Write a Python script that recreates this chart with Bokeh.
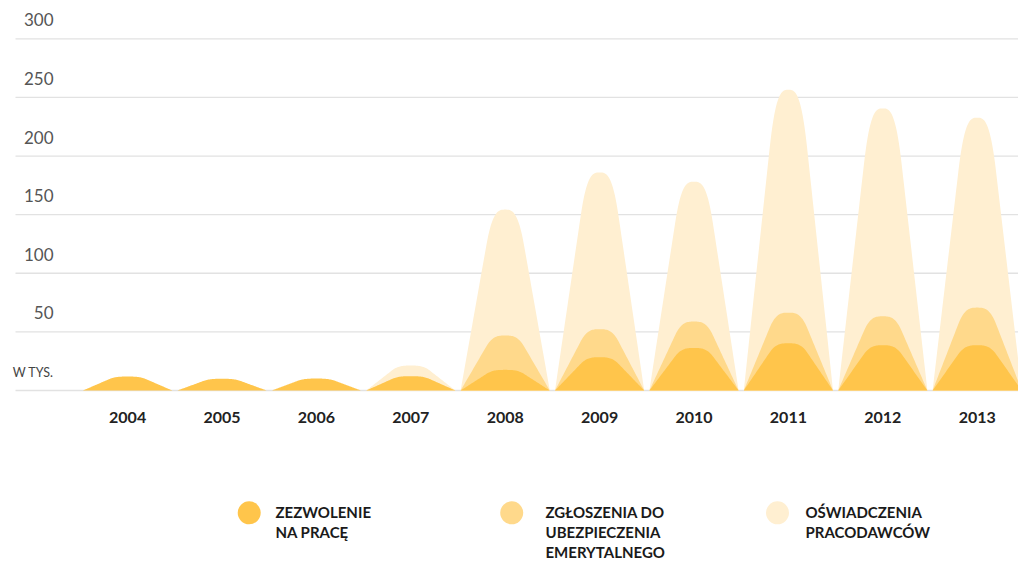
from bokeh.plotting import figure
from bokeh.models import Range1d
from bokeh.core.properties import value
from bokeh.embed import file_html
from bokeh.resources import INLINE

# ---------------- data (thousands) ----------------
years = ["2004", "2005", "2006", "2007", "2008", "2009", "2010", "2011", "2012", "2013"]
zezwolenie = [11.9, 10.0, 10.2, 12.2, 17.6, 28.4, 36.3, 40.3, 38.6, 38.6]
zgloszenia = [0, 0, 0, 0, 46.9, 52.3, 58.8, 66.4, 63.3, 70.7]
oswiadczenia = [0, 0, 0, 21.3, 154.3, 186.0, 178.1, 256.5, 240.6, 232.7]
y_ticks = [0, 50, 100, 150, 200, 250, 300]
y_tick_labels = ["W TYS.", "50", "100", "150", "200", "250", "300"]
series_labels = [["ZEZWOLENIE", "NA PRACĘ"],
                 ["ZGŁOSZENIA DO", "UBEZPIECZENIA", "EMERYTALNEGO"],
                 ["OŚWIADCZENIA", "PRACODAWCÓW"]]
colors = ["#FFC54B", "#FFD98B", "#FFEFD1"]

# ---------------- layout constants (screen px) ----------------
ORIG = 0                      # screen position of canvas origin
W, H = 1018, 564
C0, SP = 127.1, 94.4          # first band centre, band spacing (px)
Y0, PPU = 390.0, 351.7 / 300  # screen y of zero, px per unit
HALF = 44.6 / SP              # half width of a bump in band units
TSHIFT = 6.5                  # text baseline correction (px, upward)


def dx(sx):
    return (sx - C0) / SP


def dy(sy):
    return (Y0 - sy) / PPU


def ty(sy):
    return dy(sy - TSHIFT)


p = figure(width=W, height=H, output_backend="svg", toolbar_location=None,
           x_range=Range1d(dx(ORIG), dx(ORIG + W)), y_range=Range1d(dy(ORIG + H), dy(ORIG)),
           min_border=0, outline_line_color=None)
p.axis.visible = False
p.grid.visible = False
p.background_fill_color = "white"
p.border_fill_color = "white"

# gridlines
p.segment(x0=[dx(15)] * len(y_ticks), x1=[dx(1040)] * len(y_ticks), y0=y_ticks, y1=y_ticks,
          line_color="#e2e2e2", line_width=1.3)

# bump shape: straight flanks with a rounded cap
M = 1.39
PW = 3.0
U0 = (M - 1) / (M * (1 - 1 / PW))
K = M / (PW * U0 ** (PW - 1))


def g(u):
    u = abs(u)
    if u <= U0:
        return 1 - K * u ** PW
    return max(0.0, M * (1 - u))


N = 100
us = [-1 + 2 * j / N for j in range(N + 1)]


def bumps(vals):
    xs, ys = [], []
    for i, v in enumerate(vals):
        if v <= 0:
            continue
        xs.append([i + u * HALF for u in us])
        ys.append([v * g(u) for u in us])
    return xs, ys


for vals, col in [(oswiadczenia, colors[2]), (zgloszenia, colors[1]), (zezwolenie, colors[0])]:
    xs, ys = bumps(vals)
    p.patches(xs, ys, fill_color=col, line_color=None)

# y labels
p.text(x=[dx(53)] * (len(y_ticks) - 1),
       y=[ty(Y0 - t * PPU - 12.4) for t in y_ticks[1:]],
       text=y_tick_labels[1:], text_align="right", text_baseline="alphabetic",
       text_font=value("Lato"), text_font_size="17px", text_color="#555555")
p.text(x=[dx(53)], y=[ty(Y0 - y_ticks[0] * PPU - 12.0)], text=y_tick_labels[:1],
       text_align="right", text_baseline="alphabetic",
       text_font=value("Lato"), text_font_size="12.5px", text_color="#444444")

# x labels
p.text(x=list(range(len(years))), y=[ty(Y0 + 33.3)] * len(years), text=years,
       text_align="center", text_baseline="alphabetic", text_font=value("Lato"),
       text_font_style="bold", text_font_size="16px", text_color="#222222")

# legend
circle_sx = [248.7, 511.2, 777.0]
text_sx = [275.0, 545.0, 805.0]
p.scatter(x=[dx(s) for s in circle_sx], y=[dy(512.3)] * 3, size=23,
          fill_color=colors, line_color=None)
lx, ly, lt = [], [], []
for k, lines in enumerate(series_labels):
    for j, line in enumerate(lines):
        lx.append(dx(text_sx[k]))
        ly.append(ty(518.3 + 20 * j))
        lt.append(line)
p.text(x=lx, y=ly, text=lt, text_align="left", text_baseline="alphabetic",
       text_font=value("Lato"), text_font_style="bold", text_font_size="15px",
       text_color="#1a1a1a")

open("out.html", "w").write(file_html(p, INLINE))
